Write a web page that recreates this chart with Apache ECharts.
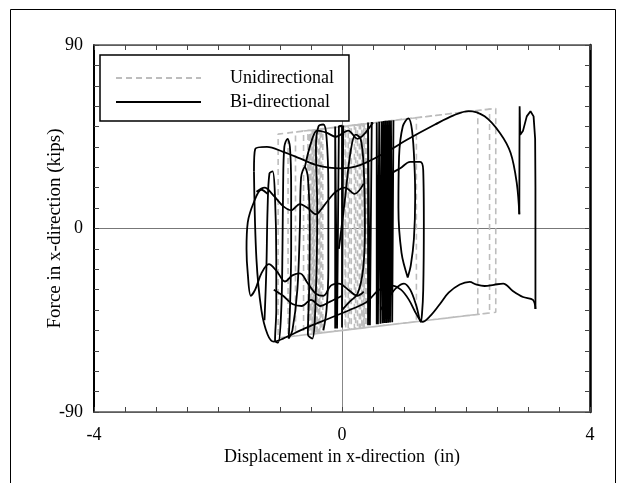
<!DOCTYPE html>
<html>
<head>
<meta charset="utf-8">
<script src="https://cdn.jsdelivr.net/npm/echarts@6/dist/echarts.min.js"></script>
<style>
html,body{margin:0;padding:0;background:#fff;}
#chart{width:621px;height:483px;}
</style>
</head>
<body>
<div id="chart"></div>
<script>
// ---- axis ticks ----
const xTicks = [-4, 0, 4];
const yTicks = [-90, 0, 90];

// ---- Unidirectional (grey dashed): corner points ----
const uniPath = [
  [0,0],[0,50],[0.38,51.4],[0.38,-48.6],[-0.52,-51.9],[-0.52,48.1],[0.30,51.1],[0.30,-48.9],
  [-0.45,-51.6],[-0.45,48.4],[0.35,51.3],[0.35,-48.7],[-0.55,-52.0],[-0.55,48.0],[0.05,50.2],[0.05,-49.8],
  [-0.33,-51.2],[-0.33,48.8],[0.25,50.9],[0.25,-49.1],[-0.50,-51.8],[-0.50,48.2],[0.40,51.4],[0.40,-48.6],
  [-0.40,-51.4],[-0.40,48.6],[0.15,50.5],[0.15,-49.5],[-0.48,-51.7],[-0.48,48.3],[0.32,51.2],[0.32,-48.8],
  [-0.36,-51.3],[-0.36,48.7],[0.10,50.4],[0.10,-49.6],[-0.53,-51.9],[-0.53,48.1],[0.28,51.0],[0.28,-49.0],
  [-0.42,-51.5],[-0.42,48.5],[0.36,51.3],[0.36,-48.7],[-0.38,-51.4],[-0.38,48.6],[0.20,50.7],[0.20,-49.3],
  [-0.46,-51.7],[-0.46,48.3],[1.20,54.3],[1.20,-45.7],[-0.87,-53.1],[-0.87,46.9],[2.19,57.9],[2.19,-42.1],
  [-1.03,-53.7],[-1.03,46.3],[2.48,58.9],[2.48,-41.1],[-0.75,-52.7],[-0.75,47.3],[2.38,58.6],[2.38,-41.4],
  [-0.62,-52.2],[-0.62,47.8],[0.42,51.5],[0.42,-48.5],[-0.44,-51.6],[-0.44,48.4],[0.22,50.8],[0.22,-49.2],
  [-0.50,-51.8],[-0.50,48.2],[0.34,51.2],[0.34,-48.8],[-0.31,-51.1],[-0.31,48.9],[0.12,50.4],[0.12,-49.6],
  [-0.47,-51.7],[-0.47,48.3],[0.38,51.4],[0.38,-48.6],[-0.35,-51.3],[-0.35,48.7],[0.06,50.2],[0.06,-49.8]
];

// ---- Bi-directional (black): curves ----
const biOuter = [
  [-1.42,28],[-1.40,39],[-1.21,40],[-0.95,37.6],[-0.68,34.4],[-0.41,31.1],[-0.03,29.5],[0.29,31.1],
  [0.72,37.6],[1.04,43.4],[1.5,51],[1.8,55.5],[2.04,57.6],[2.3,55],[2.55,46.7],[2.72,37],[2.82,22],[2.86,7]
];
const biSpike = [
  [2.86,7],[2.862,35],[2.865,60],[2.875,46],[2.92,48],[2.98,55],[3.04,57.5],[3.09,55],[3.115,44],[3.12,20],[3.12,-39.5]
];
const biBottom = [
  [3.12,-39.5],[3.08,-35],[2.92,-33.6],[2.75,-30.5],[2.6,-27],[2.45,-27.6],[2.3,-28.2],[2.16,-27.4],
  [2.06,-26.2],[1.9,-27.5],[1.72,-31.5],[1.58,-37],[1.42,-43],[1.3,-45.8],[1.2,-42],[1.08,-35],
  [0.95,-30],[0.8,-28],[0.6,-30],[0.4,-36],[0.2,-39],[-0.2,-44],[-0.6,-49],[-0.95,-54],
  [-1.1,-55.5],[-1.2,-52],[-1.3,-40],[-1.38,-15],[-1.42,28]
];
const biOval = [
  [1.06,-24],[0.96,-12],[0.91,10],[0.92,35],[0.98,50],[1.07,54],[1.13,48],[1.17,30],
  [1.18,15],[1.16,-5],[1.11,-18],[1.06,-24]
];
const biRect = [
  [0.6,20],[0.8,27],[0.94,29.5],[1.1,32.7],[1.26,32.7],[1.31,28.6],[1.32,2.6],[1.31,-30.3],
  [1.29,-42],[1.27,-45.8],[1.2,-38],[1.1,-30],[1.0,-27],[0.88,-29],[0.75,-34],[0.62,-40]
];
const biDense = [
  [0.56,-47],[0.56,52],[0.58,52.2],[0.58,-46.9],[0.60,-46.8],[0.60,52.3],[0.62,52.4],[0.62,-46.7],
  [0.64,-46.6],[0.64,52.5],[0.655,52.6],[0.655,-46.5],[0.67,-46.5],[0.67,52.7],[0.685,52.7],[0.685,-46.4],
  [0.70,-46.4],[0.70,52.8],[0.715,52.8],[0.715,-46.3],[0.73,-46.3],[0.73,52.9],[0.745,52.9],[0.745,-46.2],
  [0.76,-46.2],[0.76,53],[0.775,53],[0.775,-46.1],[0.79,-46.1],[0.79,53],[0.81,53.1],[0.81,-46],
  [0.83,-46],[0.83,53.1]
];
const biVert = [
  [-0.11,-49],[-0.11,50],[-0.08,50],[-0.08,-49],[-0.05,-48.8],[-0.05,50.2],[0.0,50.4],[0.0,-48.6],
  [0.02,-48.5],[0.02,50.5]
];
const biVert2 = [
  [0.42,-47.5],[0.42,52],[0.45,52],[0.45,-47.4],[0.48,-47.3],[0.48,52.2]
];
const biLeftA = [
  [-1.2,17],[-1.3,19],[-1.42,13],[-1.52,3],[-1.54,-10],[-1.52,-22],[-1.47,-33],[-1.40,-30],
  [-1.3,-22],[-1.18,-17.5],[-1.05,-21],[-0.92,-26],[-0.8,-23],[-0.68,-22],[-0.55,-27],[-0.42,-32],
  [-0.3,-33],[-0.18,-28],[-0.05,-27],[0.1,-30],[0.25,-33],[0.35,-31]
];
const biLeftB = [
  [-1.38,18],[-1.25,20],[-1.1,16],[-0.95,11],[-0.82,9],[-0.68,12],[-0.55,10],[-0.42,7],
  [-0.32,10],[-0.22,14],[-0.1,18],[0.05,20],[0.2,17],[0.35,22]
];
const biLeftC = [
  [-1.25,-45],[-1.22,-20],[-1.2,10],[-1.17,27],[-1.12,28],[-1.08,15],[-1.06,-15],[-1.06,-40],
  [-1.08,-55],[-1.03,-56],[-0.98,-40],[-0.96,-10],[-0.95,20],[-0.93,40],[-0.88,44],[-0.84,40],
  [-0.82,20],[-0.82,-10],[-0.84,-40],[-0.86,-54],[-0.8,-50],[-0.72,-30],[-0.68,0],[-0.66,25],
  [-0.6,30],[-0.55,25],[-0.52,0],[-0.53,-30],[-0.55,-52],[-0.48,-54],[-0.42,-30],[-0.4,10],
  [-0.42,40],[-0.38,50],[-0.3,51],[-0.25,45],[-0.22,20],[-0.22,-20],[-0.25,-40],[-0.3,-50]
];
const biLeftD = [
  [-1.1,-30],[-0.95,-33],[-0.8,-37],[-0.65,-38],[-0.5,-35],[-0.35,-38],[-0.2,-36],[0,-33]
];
const biTopWave = [
  [-0.6,30],[-0.5,42],[-0.4,48],[-0.25,47],[-0.1,45],[0.1,48],[0.25,44],[0.35,46],[0.5,52]
];
const biMid = [
  [-0.05,-10],[0.05,15],[0.14,38],[0.22,46],[0.3,44],[0.35,30],[0.37,0],[0.34,-20],
  [0.25,-32],[0.12,-36],[0.0,-40]
];

const FONT = 'Liberation Serif';
const chart = echarts.init(document.getElementById('chart'), null, {renderer:'canvas'});

const smoothSets = [biOuter, biBottom, biOval, biRect, biLeftA, biLeftB, biLeftC, biLeftD, biTopWave, biMid];
const straightSets = [biSpike, biDense, biVert, biVert2];

const blackSeries = [];
smoothSets.forEach(d => blackSeries.push({
  name:'Bi-directional', type:'line', data:d, smooth:0.35, symbol:'none',
  lineStyle:{color:'#000', width:1.8}, itemStyle:{color:'#000'}, z:3
}));
straightSets.forEach(d => blackSeries.push({
  name:'Bi-directional', type:'line', data:d, smooth:false, symbol:'none',
  lineStyle:{color:'#000', width:1.8}, itemStyle:{color:'#000'}, z:3
}));

const commonLabel = {fontFamily:FONT, fontSize:18, color:'#000'};

chart.setOption({
  animation:false,
  backgroundColor:'#fff',
  grid:{left:94, right:31, top:45, bottom:71},
  graphic:[{type:'rect', shape:{x:10.5, y:9.5, width:605, height:500}, style:{fill:'none', stroke:'#000', lineWidth:1}, silent:true}],
  legend:{
    left:100, top:55, orient:'vertical',
    data:['Unidirectional','Bi-directional'],
    itemWidth:85, itemHeight:14, itemGap:6,
    padding:[14,15,10,15],
    itemStyle:{opacity:0},
    borderColor:'#000', borderWidth:1.5, backgroundColor:'#fff',
    textStyle:{fontFamily:FONT, fontSize:18, color:'#000', padding:[0,0,0,24]}
  },
  xAxis:[
    {type:'value', min:-4, max:4, interval:4, position:'bottom',
     axisLine:{onZero:false, lineStyle:{color:'#555', width:1.5}},
     axisTick:{inside:true, length:5, lineStyle:{color:'#444'}},
     minorTick:{show:true, splitNumber:8, length:5, lineStyle:{color:'#444'}},
     splitLine:{show:true, lineStyle:{color:'#888', width:1}},
     axisLabel:Object.assign({margin:14, formatter:v=>String(v)}, commonLabel),
     name:'Displacement in x-direction  (in)', nameLocation:'middle', nameGap:36,
     nameMoveOverlap:false,
     nameTextStyle:commonLabel},
    {type:'value', min:-4, max:4, interval:4, position:'top',
     axisLine:{onZero:false, lineStyle:{color:'#555', width:1.5}},
     axisTick:{inside:true, length:5, lineStyle:{color:'#444'}},
     minorTick:{show:true, splitNumber:8, length:5, lineStyle:{color:'#444'}},
     splitLine:{show:false}, axisLabel:{show:false}}
  ],
  yAxis:[
    {type:'value', min:-90, max:90, interval:90, position:'left',
     axisLine:{onZero:false, lineStyle:{color:'#000', width:2}},
     axisTick:{inside:true, length:5, lineStyle:{color:'#444'}},
     minorTick:{show:true, splitNumber:9, length:5, lineStyle:{color:'#444'}},
     splitLine:{show:true, lineStyle:{color:'#777', width:1}},
     axisLabel:Object.assign({margin:11}, commonLabel),
     name:'Force in x-direction (kips)', nameLocation:'middle', nameGap:29,
     nameMoveOverlap:false,
     nameTextStyle:Object.assign({}, commonLabel, {fontSize:19})},
    {type:'value', min:-90, max:90, interval:90, position:'right',
     axisLine:{onZero:false, lineStyle:{color:'#000', width:2.5}},
     axisTick:{inside:true, length:5, lineStyle:{color:'#444'}},
     minorTick:{show:true, splitNumber:9, length:5, lineStyle:{color:'#444'}},
     splitLine:{show:false}, axisLabel:{show:false}}
  ],
  series:[
    {name:'Unidirectional', type:'line', data:uniPath, symbol:'none', smooth:false,
     lineStyle:{color:'#bdbdbd', width:1.6, type:[6,4]}, itemStyle:{color:'#bdbdbd'}, z:2}
  ].concat(blackSeries)
});
</script>
</body>
</html>
